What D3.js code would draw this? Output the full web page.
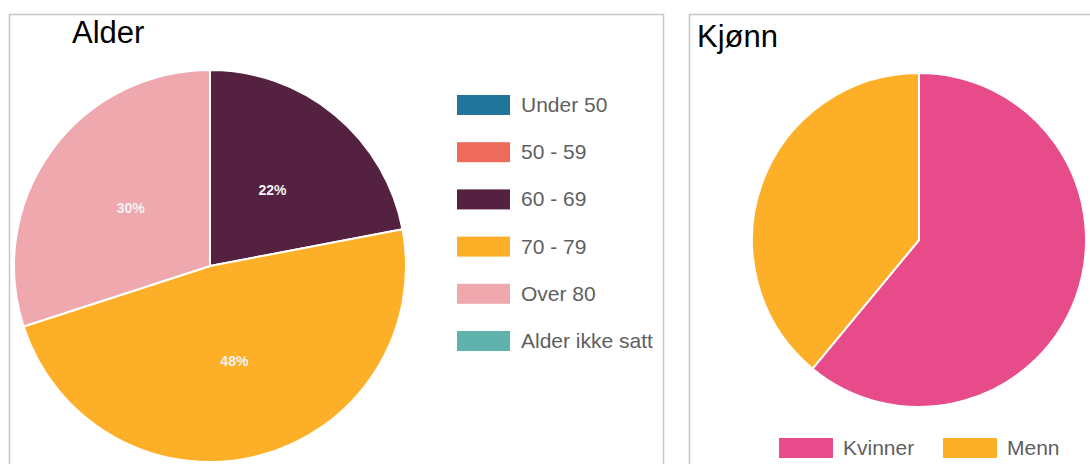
<!DOCTYPE html>
<html>
<head>
<meta charset="utf-8">
<script src="https://cdn.jsdelivr.net/npm/d3@7"></script>
<style>
  body { margin: 0; background: #fff; }
  svg { display: block; font-family: "Liberation Sans", Arial, sans-serif; }
</style>
</head>
<body>
<svg id="chart" width="1090" height="464"></svg>
<script>
// ---- Data ----
const ageCategories = ["Under 50", "50 - 59", "60 - 69", "70 - 79", "Over 80", "Alder ikke satt"];
const ageValues = [0, 0, 22, 48, 30, 0];
const ageColors = ["#21759b", "#ee6a5b", "#542240", "#fdb027", "#eea8ae", "#5fb3ac"];

const genderCategories = ["Kvinner", "Menn"];
const genderValues = [61, 39];
const genderColors = ["#e84b8a", "#fdb027"];

const titles = ["Alder", "Kjønn"];

// ---- Drawing ----
const svg = d3.select("#chart");

// Panels
svg.append("rect").attr("x", 9.5).attr("y", 14.5).attr("width", 654).attr("height", 480)
  .attr("fill", "none").attr("stroke", "#c8c8c8").attr("stroke-width", 1.5);
svg.append("rect").attr("x", 689.5).attr("y", 14.5).attr("width", 440).attr("height", 480)
  .attr("fill", "none").attr("stroke", "#c8c8c8").attr("stroke-width", 1.5);

// Titles
svg.append("text").attr("x", 72).attr("y", 43).attr("font-size", 31).attr("fill", "#000").text(titles[0]);
svg.append("text").attr("x", 697).attr("y", 47).attr("font-size", 31).attr("fill", "#000").text(titles[1]);

const pie = d3.pie().sort(null).value(d => d.value);

// Age pie
const ageData = ageCategories.map((c, i) => ({ name: c, value: ageValues[i], color: ageColors[i] }));
const ageR = 196;
const ageG = svg.append("g").attr("transform", "translate(210,266)");
const ageArc = d3.arc().innerRadius(0).outerRadius(ageR);
const ageArcs = pie(ageData).filter(d => d.data.value > 0);
ageG.selectAll("path").data(ageArcs).join("path")
  .attr("d", ageArc).attr("fill", d => d.data.color)
  .attr("stroke", "#fff").attr("stroke-width", 2).attr("stroke-linejoin", "round");
const total = d3.sum(ageValues);
ageG.selectAll("text").data(ageArcs).join("text")
  .attr("transform", d => { const c = ageArc.centroid(d); return `translate(${c[0]},${c[1] + 5})`; })
  .attr("text-anchor", "middle").attr("font-size", 14).attr("font-weight", "bold").attr("fill", "#f2f2f2")
  .text(d => Math.round(d.data.value / total * 100) + "%");

// Age legend
const legY = d3.scalePoint().domain(ageCategories).range([105, 341]);
const leg = svg.append("g").selectAll("g").data(ageData).join("g")
  .attr("transform", d => `translate(457,${legY(d.name)})`);
leg.append("rect").attr("x", 0).attr("y", -10).attr("width", 53).attr("height", 20).attr("fill", d => d.color);
leg.append("text").attr("x", 64).attr("y", 7).attr("font-size", 21).attr("fill", "#5f5f5f").text(d => d.name);

// Gender pie
const genData = genderCategories.map((c, i) => ({ name: c, value: genderValues[i], color: genderColors[i] }));
const genR = 167;
const genG = svg.append("g").attr("transform", "translate(919,240)");
const genArc = d3.arc().innerRadius(0).outerRadius(genR);
genG.selectAll("path").data(pie(genData)).join("path")
  .attr("d", genArc).attr("fill", d => d.data.color)
  .attr("stroke", "#fff").attr("stroke-width", 2).attr("stroke-linejoin", "round");

// Gender legend
const genLegX = [779, 943];
const gl = svg.append("g").selectAll("g").data(genData).join("g")
  .attr("transform", (d, i) => `translate(${genLegX[i]},448)`);
gl.append("rect").attr("x", 0).attr("y", -10).attr("width", 54).attr("height", 20).attr("fill", d => d.color);
gl.append("text").attr("x", 64).attr("y", 7).attr("font-size", 21).attr("fill", "#5f5f5f").text(d => d.name);
</script>
</body>
</html>
